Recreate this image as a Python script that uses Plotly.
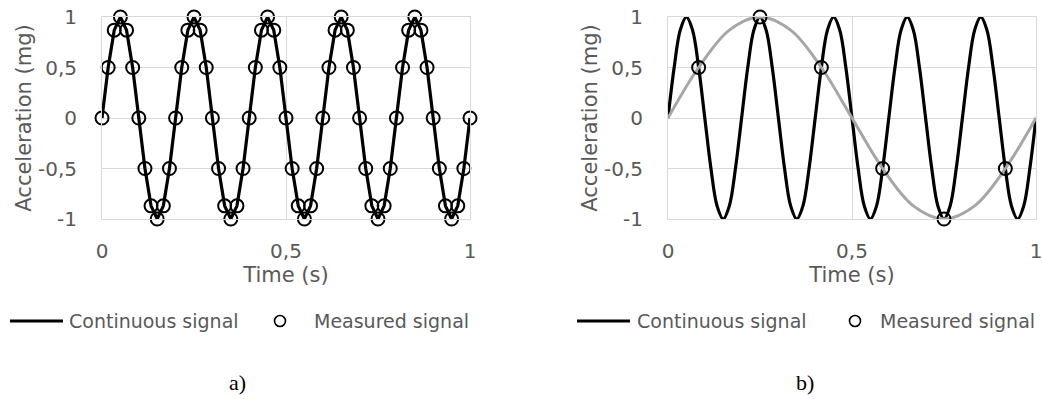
import plotly.graph_objects as go

# Sample instants of the 60 Hz acquisition (s)
t_samples = [
    0.0, 0.0167, 0.0333, 0.05, 0.0667, 0.0833, 0.1, 0.1167, 0.1333, 0.15, 0.1667, 0.1833,
    0.2, 0.2167, 0.2333, 0.25, 0.2667, 0.2833, 0.3, 0.3167, 0.3333, 0.35, 0.3667, 0.3833,
    0.4, 0.4167, 0.4333, 0.45, 0.4667, 0.4833, 0.5, 0.5167, 0.5333, 0.55, 0.5667, 0.5833,
    0.6, 0.6167, 0.6333, 0.65, 0.6667, 0.6833, 0.7, 0.7167, 0.7333, 0.75, 0.7667, 0.7833,
    0.8, 0.8167, 0.8333, 0.85, 0.8667, 0.8833, 0.9, 0.9167, 0.9333, 0.95, 0.9667, 0.9833,
    1.0,
]
# 5 Hz acceleration at each sample instant (mg)
acc_5hz = [
    0, 0.5, 0.87, 1, 0.87, 0.5, 0, -0.5, -0.87, -1, -0.87, -0.5,
    0, 0.5, 0.87, 1, 0.87, 0.5, 0, -0.5, -0.87, -1, -0.87, -0.5,
    0, 0.5, 0.87, 1, 0.87, 0.5, 0, -0.5, -0.87, -1, -0.87, -0.5,
    0, 0.5, 0.87, 1, 0.87, 0.5, 0, -0.5, -0.87, -1, -0.87, -0.5,
    0, 0.5, 0.87, 1, 0.87, 0.5, 0, -0.5, -0.87, -1, -0.87, -0.5,
    0,
]
# 1 Hz alias that the 6 Hz sampling reconstructs (mg)
t_alias = [0.0, 0.0833, 0.1667, 0.25, 0.3333, 0.4167, 0.5, 0.5833, 0.6667, 0.75, 0.8333, 0.9167, 1.0]
acc_alias = [0, 0.5, 0.87, 1, 0.87, 0.5, 0, -0.5, -0.87, -1, -0.87, -0.5, 0]
# Samples taken at 6 Hz (mg)
t_measured_b = [0.0833, 0.25, 0.4167, 0.5833, 0.75, 0.9167]
acc_measured_b = [0.5, 1, 0.5, -0.5, -1, -0.5]

x_tickvals = [0, 0.5, 1]
x_ticktext = ["0", "0,5", "1"]
y_tickvals = [-1, -0.5, 0, 0.5, 1]
y_ticktext = ["-1", "-0,5", "0", "0,5", "1"]
legend_labels = ["Continuous signal", "Measured signal"]
panel_labels = ["a)", "b)"]
x_title = "Time (s)"
y_title = "Acceleration (mg)"

W, H = 1042, 399
TXT = "#595959"
GRID = "#d9d9d9"
FONT = "DejaVu Sans"


def px_x(p):
    return p / W


def px_y(p):
    return 1 - p / H


fig = go.Figure()

# Panel a: 5 Hz signal sampled at 60 Hz
fig.add_trace(go.Scatter(x=t_samples, y=acc_5hz, mode="lines",
                         line=dict(color="black", width=3.2),
                         xaxis="x", yaxis="y", cliponaxis=False, showlegend=False))
fig.add_trace(go.Scatter(x=t_samples, y=acc_5hz, mode="markers",
                         marker=dict(symbol="circle-open", size=13, color="black",
                                     line=dict(width=2, color="black")),
                         xaxis="x", yaxis="y", cliponaxis=False, showlegend=False))

# Panel b: same signal sampled at 6 Hz, with its 1 Hz alias
fig.add_trace(go.Scatter(x=t_samples, y=acc_5hz, mode="lines",
                         line=dict(color="black", width=3.2, shape="spline", smoothing=1),
                         xaxis="x2", yaxis="y2", cliponaxis=False, showlegend=False))
fig.add_trace(go.Scatter(x=t_alias, y=acc_alias, mode="lines",
                         line=dict(color="#a6a6a6", width=3, shape="spline", smoothing=1),
                         xaxis="x2", yaxis="y2", cliponaxis=False, showlegend=False))
fig.add_trace(go.Scatter(x=t_measured_b, y=acc_measured_b, mode="markers",
                         marker=dict(symbol="circle-open", size=13, color="black",
                                     line=dict(width=2, color="black")),
                         xaxis="x2", yaxis="y2", cliponaxis=False, showlegend=False))

axis_font = dict(family=FONT, size=20, color=TXT)
title_font = dict(family=FONT, size=21, color=TXT)
frame = dict(showline=True, mirror=True, linecolor=GRID, linewidth=1)
xcommon = dict(range=[0, 1], tickvals=x_tickvals, ticktext=x_ticktext,
               showgrid=True, gridcolor=GRID, gridwidth=1, zeroline=False,
               ticks="outside", ticklen=14, tickcolor="rgba(0,0,0,0)",
               tickfont=axis_font, ticklabeloverflow="allow",
               fixedrange=True, automargin=False,
               title=dict(text=x_title, font=title_font, standoff=0), **frame)
ycommon = dict(range=[-1, 1], tickvals=y_tickvals, ticktext=y_ticktext,
               showgrid=True, gridcolor=GRID, gridwidth=1, zeroline=False,
               ticks="outside", ticklen=20, tickcolor="rgba(0,0,0,0)",
               tickfont=axis_font, ticklabeloverflow="allow",
               fixedrange=True, automargin=False,
               title=dict(text=y_title, font=title_font, standoff=0), **frame)

y_dom = [px_y(219), px_y(17)]
fig.update_layout(
    width=W, height=H,
    margin=dict(l=0, r=0, t=0, b=0, autoexpand=False),
    paper_bgcolor="white", plot_bgcolor="white",
    xaxis=dict(domain=[px_x(102), px_x(470)], anchor="y", **xcommon),
    yaxis=dict(domain=y_dom, anchor="x", **ycommon),
    xaxis2=dict(domain=[px_x(668), px_x(1036)], anchor="y2", **xcommon),
    yaxis2=dict(domain=y_dom, anchor="x2", **ycommon),
    showlegend=False,
)

# Legends drawn under each panel
shapes = []
annotations = []
leg_y = px_y(321)
legend_layout = [
    # (line x0, line x1, text x, marker x, marker text x)
    (10, 63, 67, 280, 312),
    (577, 630, 635, 855, 878),
]
leg_font = dict(family=FONT, size=19, color=TXT)
for lx0, lx1, tx, mx, mtx in legend_layout:
    shapes.append(dict(type="line", xref="paper", yref="paper",
                       x0=px_x(lx0), x1=px_x(lx1), y0=leg_y, y1=leg_y,
                       line=dict(color="black", width=3)))
    r = 5.5
    shapes.append(dict(type="circle", xref="paper", yref="paper",
                       x0=px_x(mx - r), x1=px_x(mx + r),
                       y0=px_y(321 + r), y1=px_y(321 - r),
                       line=dict(color="black", width=1.6)))
    annotations.append(dict(text=legend_labels[0], xref="paper", yref="paper",
                            x=px_x(tx), y=leg_y, xanchor="left", yanchor="middle",
                            showarrow=False, font=leg_font))
    annotations.append(dict(text=legend_labels[1], xref="paper", yref="paper",
                            x=px_x(mtx), y=leg_y, xanchor="left", yanchor="middle",
                            showarrow=False, font=leg_font))

# Panel captions
for label, cx in zip(panel_labels, [237, 805]):
    annotations.append(dict(text=label, xref="paper", yref="paper",
                            x=px_x(cx), y=px_y(382), xanchor="center", yanchor="middle",
                            showarrow=False,
                            font=dict(family="Liberation Serif", size=22, color="black")))

fig.update_layout(shapes=shapes, annotations=annotations)

fig.write_html("out.html")
